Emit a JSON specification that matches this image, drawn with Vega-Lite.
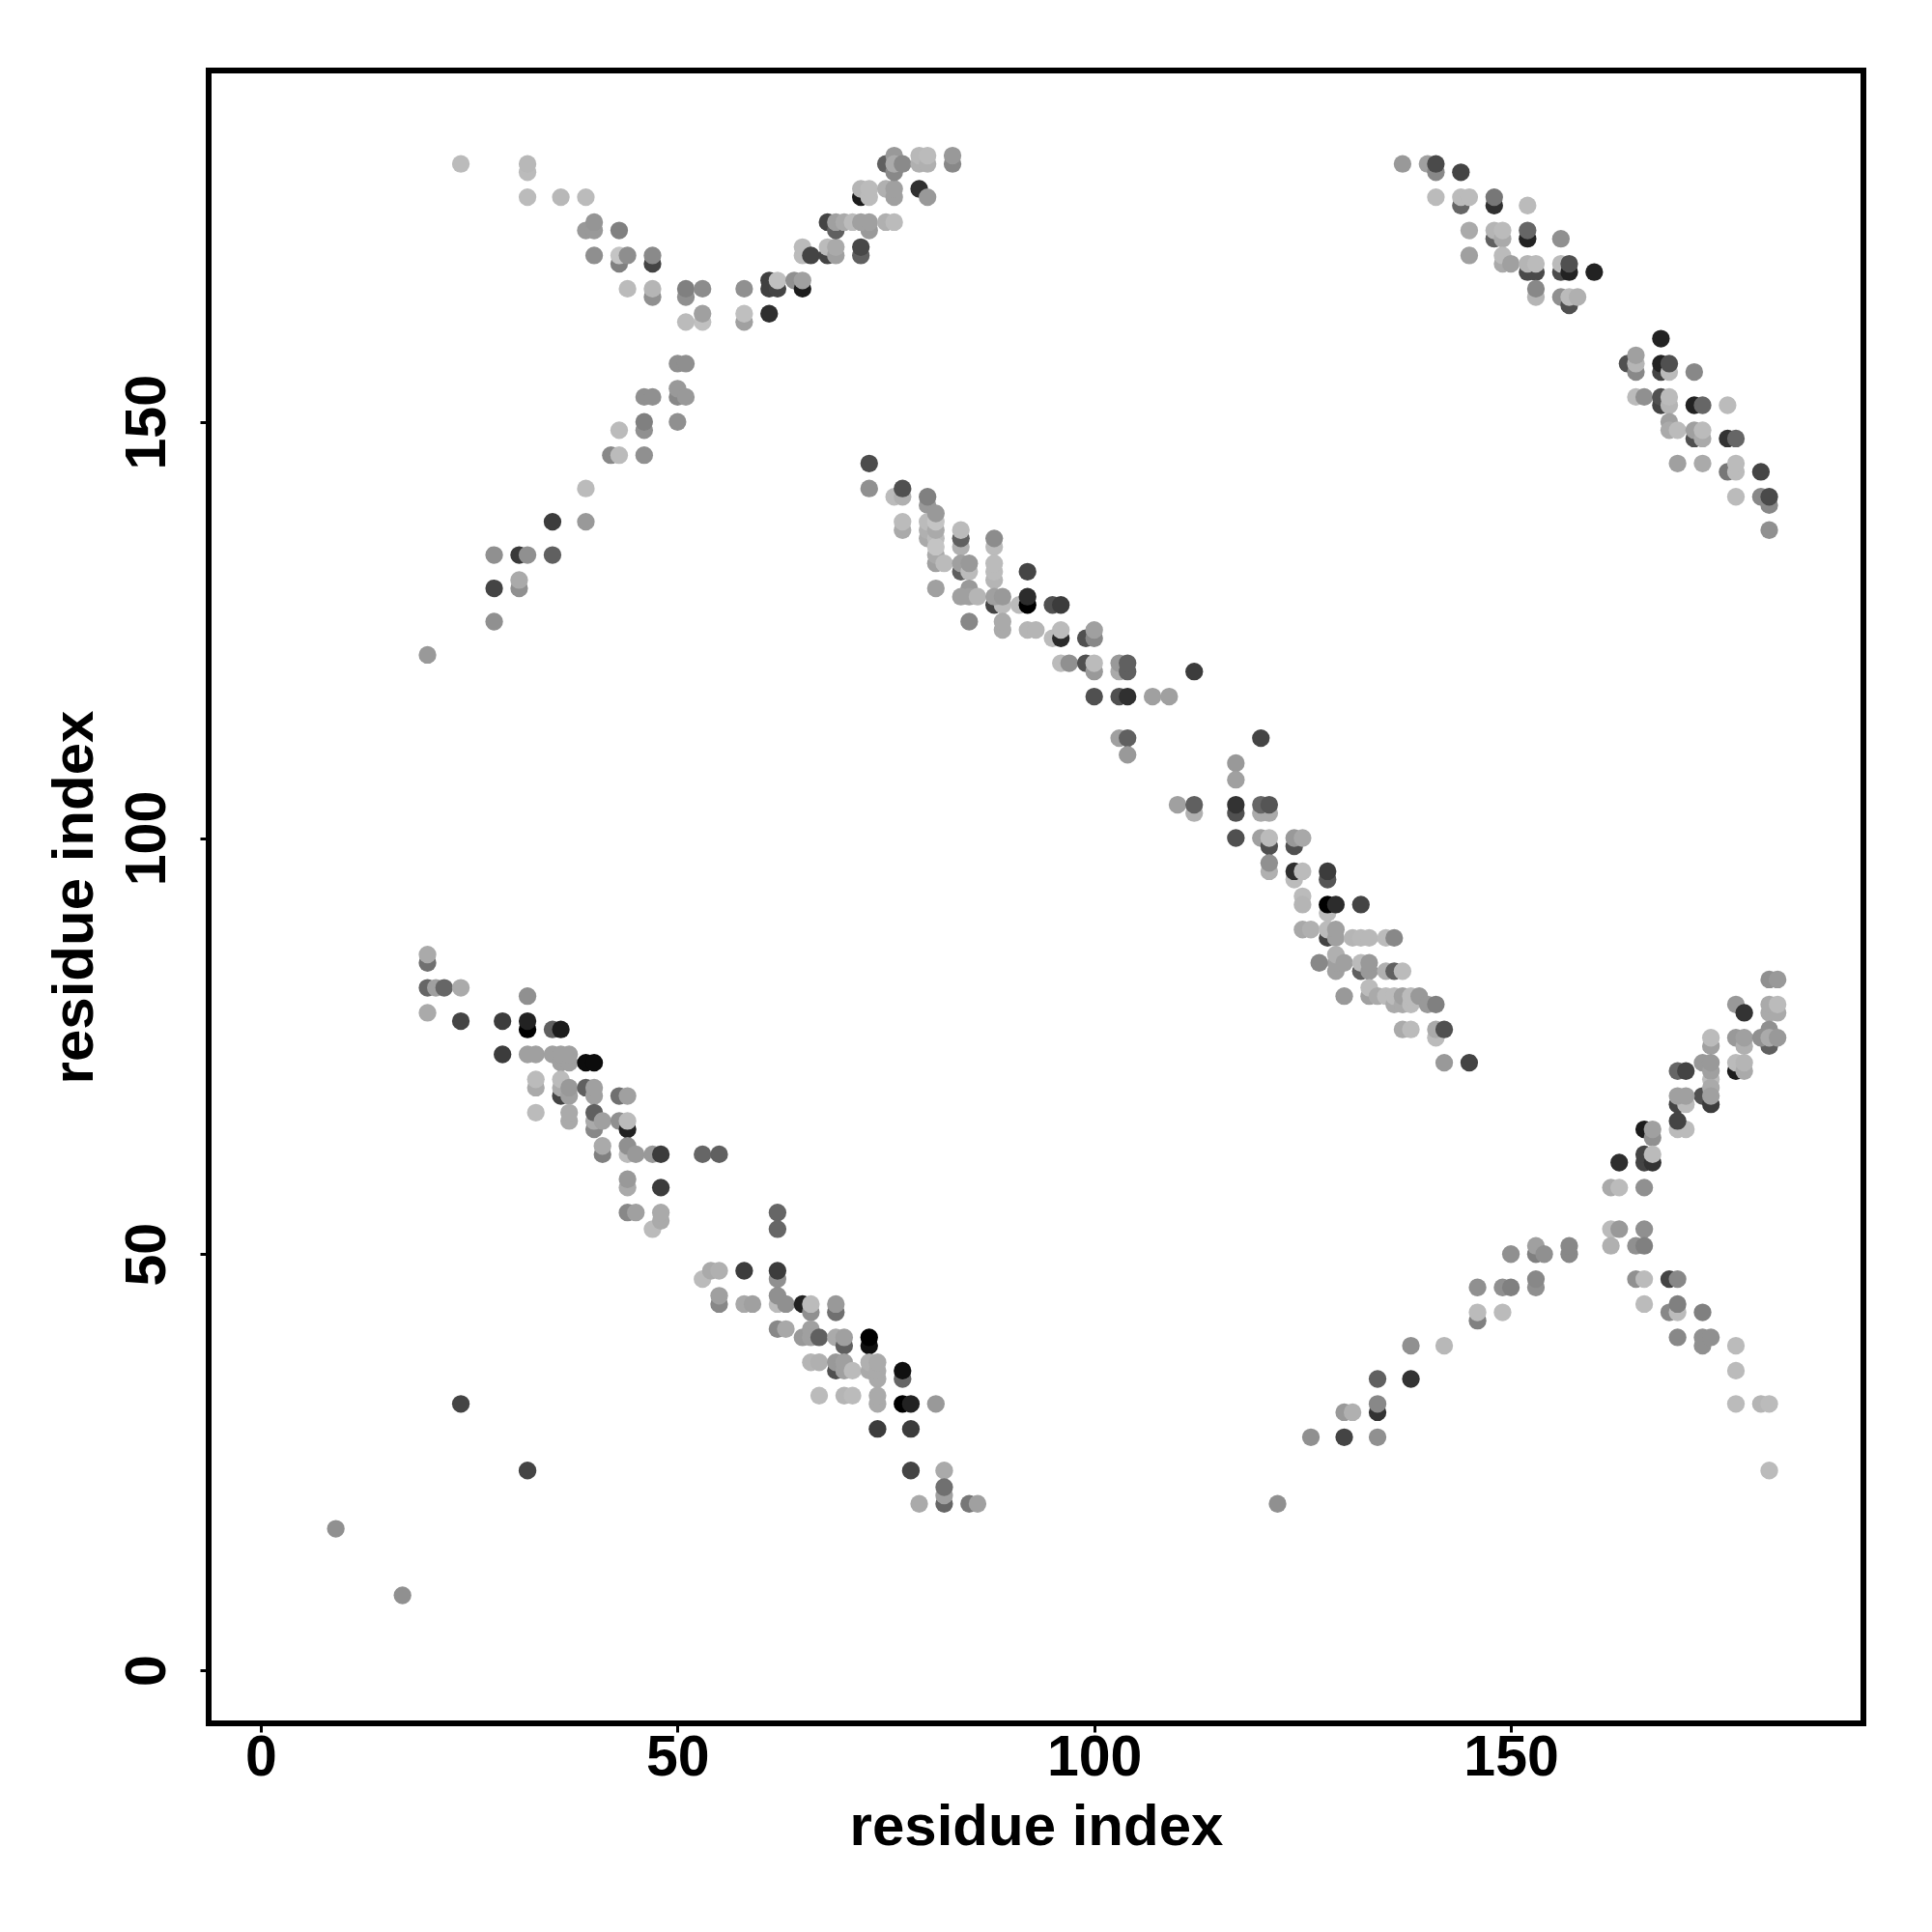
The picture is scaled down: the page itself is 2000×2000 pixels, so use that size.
{"$schema":"https://vega.github.io/schema/vega-lite/v6.json","autosize":{"type":"none"},"padding":{"left":216,"top":73,"right":71,"bottom":216},"width":1713,"height":1711,"background":"white","view":{"stroke":"black","strokeWidth":6,"fill":"white"},"data":{"values":[
{"x":9,"y":17,"g":144},{"x":17,"y":9,"g":144},{"x":24,"y":32,"g":68},{"x":32,"y":24,"g":68},
{"x":24,"y":181,"g":187},{"x":32,"y":180,"g":187},{"x":32,"y":181,"g":184},{"x":32,"y":177,"g":187},{"x":36,"y":177,"g":184},{"x":39,"y":177,"g":187},{"x":39,"y":173,"g":153},{"x":40,"y":173,"g":153},{"x":40,"y":174,"g":149},{"x":43,"y":173,"g":128},{"x":40,"y":170,"g":143},{"x":43,"y":169,"g":128},{"x":43,"y":170,"g":196},{"x":44,"y":170,"g":142},{"x":47,"y":169,"g":68},{"x":47,"y":170,"g":138},{"x":44,"y":166,"g":187},{"x":47,"y":165,"g":144},{"x":47,"y":166,"g":181},{"x":51,"y":165,"g":144},{"x":51,"y":166,"g":128},{"x":53,"y":166,"g":140},{"x":58,"y":166,"g":144},{"x":61,"y":167,"g":64},{"x":61,"y":166,"g":64},{"x":62,"y":166,"g":68},{"x":62,"y":167,"g":192},{"x":64,"y":167,"g":144},{"x":65,"y":166,"g":28},{"x":65,"y":167,"g":160},{"x":53,"y":162,"g":192},{"x":53,"y":163,"g":160},{"x":51,"y":162,"g":187},{"x":58,"y":162,"g":160},{"x":58,"y":163,"g":191},{"x":61,"y":163,"g":46},{"x":50,"y":157,"g":143},{"x":51,"y":157,"g":143},{"x":50,"y":153,"g":136},{"x":50,"y":154,"g":153},{"x":51,"y":153,"g":153},{"x":46,"y":153,"g":144},{"x":47,"y":153,"g":144},{"x":46,"y":149,"g":144},{"x":46,"y":150,"g":128},{"x":50,"y":150,"g":144},{"x":43,"y":149,"g":187},{"x":42,"y":146,"g":136},{"x":43,"y":146,"g":187},{"x":46,"y":146,"g":144},{"x":39,"y":142,"g":187},{"x":35,"y":138,"g":60},{"x":39,"y":138,"g":153},{"x":28,"y":134,"g":144},{"x":31,"y":134,"g":58},{"x":32,"y":134,"g":144},{"x":35,"y":134,"g":96},{"x":28,"y":130,"g":68},{"x":31,"y":130,"g":144},{"x":31,"y":131,"g":170},{"x":28,"y":126,"g":144},{"x":20,"y":122,"g":153},
{"x":72,"y":170,"g":96},{"x":72,"y":171,"g":72},{"x":65,"y":170,"g":187},{"x":65,"y":171,"g":187},{"x":66,"y":170,"g":68},{"x":68,"y":170,"g":68},{"x":68,"y":171,"g":187},{"x":69,"y":170,"g":160},{"x":69,"y":171,"g":170},{"x":68,"y":174,"g":68},{"x":69,"y":173,"g":96},{"x":69,"y":174,"g":160},{"x":70,"y":174,"g":170},{"x":71,"y":174,"g":187},{"x":73,"y":173,"g":153},{"x":72,"y":174,"g":160},{"x":73,"y":174,"g":160},{"x":75,"y":174,"g":176},{"x":76,"y":174,"g":187},{"x":72,"y":177,"g":28},{"x":72,"y":178,"g":181},{"x":73,"y":177,"g":187},{"x":73,"y":178,"g":187},{"x":75,"y":178,"g":176},{"x":76,"y":177,"g":160},{"x":76,"y":178,"g":160},{"x":79,"y":178,"g":48},{"x":80,"y":177,"g":153},{"x":75,"y":181,"g":96},{"x":76,"y":180,"g":136},{"x":76,"y":182,"g":153},{"x":76,"y":181,"g":170},{"x":77,"y":181,"g":138},{"x":79,"y":181,"g":176},{"x":79,"y":182,"g":184},{"x":80,"y":181,"g":176},{"x":80,"y":182,"g":187},{"x":83,"y":181,"g":136},{"x":83,"y":182,"g":153},
{"x":73,"y":145,"g":76},{"x":73,"y":142,"g":144},{"x":76,"y":141,"g":187},{"x":77,"y":141,"g":176},{"x":77,"y":142,"g":80},{"x":80,"y":140,"g":153},{"x":80,"y":141,"g":128},{"x":77,"y":137,"g":170},{"x":77,"y":138,"g":187},{"x":80,"y":136,"g":170},{"x":80,"y":137,"g":176},{"x":80,"y":138,"g":187},{"x":81,"y":133,"g":160},{"x":81,"y":134,"g":170},{"x":81,"y":136,"g":187},{"x":81,"y":135,"g":196},{"x":81,"y":137,"g":170},{"x":81,"y":138,"g":196},{"x":81,"y":139,"g":153},{"x":82,"y":133,"g":187},{"x":84,"y":135,"g":176},{"x":84,"y":136,"g":96},{"x":84,"y":137,"g":187},{"x":84,"y":132,"g":96},{"x":84,"y":133,"g":160},{"x":85,"y":132,"g":187},{"x":85,"y":133,"g":153},{"x":88,"y":135,"g":187},{"x":88,"y":136,"g":140},{"x":88,"y":131,"g":181},{"x":88,"y":132,"g":187},{"x":88,"y":133,"g":187},{"x":81,"y":130,"g":160},{"x":85,"y":130,"g":153},{"x":84,"y":129,"g":160},{"x":85,"y":129,"g":160},{"x":86,"y":129,"g":181},{"x":88,"y":128,"g":68},{"x":89,"y":128,"g":187},{"x":88,"y":129,"g":160},{"x":89,"y":129,"g":153},{"x":91,"y":128,"g":187},{"x":92,"y":132,"g":69},{"x":92,"y":128,"g":0},{"x":92,"y":129,"g":44},{"x":95,"y":128,"g":80},{"x":96,"y":128,"g":60},{"x":85,"y":126,"g":136},{"x":89,"y":125,"g":170},{"x":89,"y":126,"g":170},{"x":92,"y":125,"g":181},{"x":93,"y":125,"g":181},{"x":95,"y":124,"g":187},{"x":96,"y":124,"g":42},{"x":96,"y":125,"g":187},{"x":99,"y":124,"g":80},{"x":100,"y":124,"g":136},{"x":100,"y":125,"g":160},{"x":96,"y":121,"g":187},{"x":97,"y":121,"g":144},{"x":99,"y":121,"g":80},{"x":100,"y":120,"g":153},{"x":100,"y":121,"g":187},{"x":103,"y":120,"g":170},{"x":103,"y":121,"g":153},{"x":104,"y":120,"g":96},{"x":104,"y":121,"g":96},{"x":112,"y":120,"g":60},{"x":100,"y":117,"g":80},{"x":103,"y":117,"g":80},{"x":104,"y":117,"g":48},{"x":107,"y":117,"g":160},{"x":109,"y":117,"g":160},{"x":103,"y":112,"g":160},{"x":104,"y":112,"g":96},{"x":104,"y":110,"g":153},
{"x":120,"y":112,"g":68},{"x":117,"y":109,"g":153},{"x":117,"y":107,"g":160},{"x":110,"y":104,"g":160},{"x":112,"y":103,"g":176},{"x":112,"y":104,"g":96},{"x":117,"y":103,"g":80},{"x":117,"y":104,"g":51},{"x":120,"y":103,"g":170},{"x":121,"y":103,"g":170},{"x":120,"y":104,"g":102},{"x":121,"y":104,"g":85},{"x":117,"y":100,"g":80},{"x":120,"y":100,"g":160},{"x":121,"y":99,"g":80},{"x":121,"y":100,"g":187},{"x":124,"y":99,"g":80},{"x":124,"y":100,"g":153},{"x":125,"y":100,"g":168},{"x":121,"y":96,"g":176},{"x":121,"y":97,"g":144},{"x":124,"y":95,"g":187},{"x":124,"y":96,"g":46},{"x":125,"y":96,"g":187},{"x":128,"y":95,"g":85},{"x":128,"y":96,"g":60},{"x":125,"y":93,"g":187},{"x":125,"y":92,"g":181},{"x":128,"y":91,"g":187},{"x":128,"y":92,"g":0},{"x":129,"y":92,"g":44},{"x":132,"y":92,"g":68},{"x":125,"y":89,"g":168},{"x":126,"y":89,"g":176},{"x":128,"y":88,"g":68},{"x":128,"y":89,"g":187},{"x":129,"y":88,"g":160},{"x":129,"y":89,"g":160},{"x":131,"y":88,"g":181},{"x":132,"y":88,"g":184},{"x":133,"y":88,"g":184},{"x":135,"y":88,"g":187},{"x":136,"y":88,"g":136},{"x":129,"y":84,"g":160},{"x":129,"y":85,"g":160},{"x":129,"y":86,"g":176},{"x":130,"y":85,"g":160},{"x":127,"y":85,"g":136},{"x":132,"y":84,"g":96},{"x":132,"y":85,"g":187},{"x":133,"y":84,"g":153},{"x":133,"y":85,"g":153},{"x":135,"y":84,"g":176},{"x":136,"y":84,"g":96},{"x":137,"y":84,"g":187},{"x":130,"y":81,"g":153},{"x":133,"y":81,"g":160},{"x":133,"y":82,"g":187},{"x":134,"y":81,"g":170},{"x":135,"y":81,"g":187},{"x":136,"y":80,"g":170},{"x":136,"y":81,"g":187},{"x":137,"y":80,"g":170},{"x":137,"y":81,"g":160},{"x":138,"y":80,"g":187},{"x":138,"y":81,"g":187},{"x":139,"y":81,"g":153},{"x":140,"y":80,"g":153},{"x":141,"y":80,"g":128},{"x":137,"y":77,"g":170},{"x":138,"y":77,"g":187},{"x":141,"y":76,"g":187},{"x":141,"y":77,"g":170},{"x":142,"y":77,"g":80},{"x":142,"y":73,"g":153},{"x":145,"y":73,"g":68},
{"x":181,"y":83,"g":144},{"x":182,"y":83,"g":153},{"x":177,"y":80,"g":153},{"x":178,"y":79,"g":51},{"x":181,"y":79,"g":170},{"x":182,"y":79,"g":170},{"x":181,"y":80,"g":170},{"x":182,"y":80,"g":187},{"x":174,"y":75,"g":160},{"x":174,"y":76,"g":187},{"x":177,"y":76,"g":153},{"x":178,"y":75,"g":176},{"x":178,"y":76,"g":160},{"x":181,"y":75,"g":96},{"x":181,"y":77,"g":144},{"x":180,"y":76,"g":144},{"x":181,"y":76,"g":170},{"x":182,"y":76,"g":153},{"x":177,"y":72,"g":28},{"x":177,"y":73,"g":187},{"x":178,"y":72,"g":170},{"x":178,"y":73,"g":181},{"x":173,"y":73,"g":153},{"x":174,"y":71,"g":187},{"x":174,"y":72,"g":160},{"x":174,"y":73,"g":153},{"x":170,"y":72,"g":102},{"x":171,"y":72,"g":68},{"x":173,"y":69,"g":80},{"x":174,"y":68,"g":60},{"x":174,"y":70,"g":170},{"x":174,"y":69,"g":160},{"x":170,"y":68,"g":68},{"x":171,"y":68,"g":187},{"x":170,"y":69,"g":160},{"x":171,"y":69,"g":160},{"x":170,"y":65,"g":187},{"x":171,"y":65,"g":187},{"x":170,"y":66,"g":68},{"x":166,"y":65,"g":28},{"x":167,"y":64,"g":144},{"x":167,"y":65,"g":160},{"x":166,"y":61,"g":68},{"x":166,"y":62,"g":68},{"x":167,"y":61,"g":51},{"x":167,"y":62,"g":187},{"x":163,"y":61,"g":46},{"x":162,"y":58,"g":170},{"x":163,"y":58,"g":187},{"x":166,"y":58,"g":144},{"x":162,"y":53,"g":187},{"x":163,"y":53,"g":153},{"x":166,"y":53,"g":144},{"x":162,"y":51,"g":176},{"x":165,"y":51,"g":144},{"x":166,"y":51,"g":128},{"x":157,"y":50,"g":136},{"x":157,"y":51,"g":136},{"x":153,"y":50,"g":128},{"x":153,"y":51,"g":160},{"x":154,"y":50,"g":144},{"x":150,"y":50,"g":144},{"x":146,"y":46,"g":144},{"x":149,"y":46,"g":144},{"x":150,"y":46,"g":128},{"x":153,"y":46,"g":144},{"x":153,"y":47,"g":136},{"x":146,"y":42,"g":128},{"x":146,"y":43,"g":187},{"x":149,"y":43,"g":187},{"x":138,"y":39,"g":144},{"x":142,"y":39,"g":184},{"x":134,"y":35,"g":96},{"x":138,"y":35,"g":51},{"x":134,"y":31,"g":51},{"x":134,"y":32,"g":136},{"x":130,"y":31,"g":153},{"x":131,"y":31,"g":176},{"x":126,"y":28,"g":144},{"x":130,"y":28,"g":68},{"x":134,"y":28,"g":144},{"x":122,"y":20,"g":144},{"x":165,"y":47,"g":144},{"x":166,"y":47,"g":187},{"x":169,"y":47,"g":68},{"x":170,"y":47,"g":136},{"x":166,"y":44,"g":187},{"x":169,"y":43,"g":136},{"x":170,"y":43,"g":187},{"x":170,"y":44,"g":128},{"x":173,"y":43,"g":128},{"x":170,"y":40,"g":136},{"x":173,"y":39,"g":144},{"x":173,"y":40,"g":144},{"x":174,"y":40,"g":144},{"x":177,"y":39,"g":187},{"x":177,"y":36,"g":187},{"x":177,"y":32,"g":187},{"x":180,"y":32,"g":181},{"x":181,"y":32,"g":187},{"x":181,"y":24,"g":187},
{"x":137,"y":181,"g":153},{"x":140,"y":181,"g":160},{"x":141,"y":180,"g":136},{"x":141,"y":181,"g":74},{"x":144,"y":180,"g":68},{"x":141,"y":177,"g":187},{"x":144,"y":176,"g":102},{"x":144,"y":177,"g":187},{"x":145,"y":177,"g":187},{"x":148,"y":176,"g":48},{"x":148,"y":177,"g":119},{"x":152,"y":176,"g":187},{"x":145,"y":173,"g":170},{"x":148,"y":172,"g":96},{"x":148,"y":173,"g":181},{"x":149,"y":172,"g":170},{"x":149,"y":173,"g":187},{"x":152,"y":172,"g":34},{"x":152,"y":173,"g":102},{"x":156,"y":172,"g":144},{"x":145,"y":170,"g":160},{"x":149,"y":169,"g":170},{"x":149,"y":170,"g":187},{"x":150,"y":169,"g":160},{"x":152,"y":168,"g":74},{"x":153,"y":168,"g":74},{"x":152,"y":169,"g":181},{"x":153,"y":169,"g":187},{"x":156,"y":168,"g":74},{"x":156,"y":169,"g":187},{"x":157,"y":168,"g":34},{"x":157,"y":169,"g":80},{"x":160,"y":168,"g":34},{"x":153,"y":165,"g":181},{"x":153,"y":166,"g":136},{"x":156,"y":165,"g":144},{"x":157,"y":164,"g":80},{"x":157,"y":165,"g":187},{"x":158,"y":165,"g":176},{"x":168,"y":160,"g":34},{"x":164,"y":157,"g":80},{"x":165,"y":156,"g":136},{"x":165,"y":157,"g":181},{"x":165,"y":158,"g":160},{"x":168,"y":156,"g":68},{"x":168,"y":157,"g":34},{"x":169,"y":156,"g":187},{"x":169,"y":157,"g":80},{"x":172,"y":156,"g":136},{"x":165,"y":153,"g":187},{"x":166,"y":153,"g":144},{"x":168,"y":152,"g":68},{"x":168,"y":153,"g":80},{"x":169,"y":152,"g":181},{"x":169,"y":153,"g":187},{"x":172,"y":152,"g":34},{"x":173,"y":152,"g":102},{"x":176,"y":152,"g":187},{"x":169,"y":150,"g":160},{"x":169,"y":149,"g":170},{"x":170,"y":149,"g":187},{"x":172,"y":148,"g":80},{"x":172,"y":149,"g":160},{"x":173,"y":148,"g":170},{"x":173,"y":149,"g":187},{"x":176,"y":148,"g":51},{"x":177,"y":148,"g":102},{"x":170,"y":145,"g":160},{"x":173,"y":145,"g":170},{"x":176,"y":144,"g":119},{"x":177,"y":144,"g":187},{"x":177,"y":145,"g":187},{"x":180,"y":144,"g":68},{"x":177,"y":141,"g":187},{"x":180,"y":141,"g":136},{"x":181,"y":140,"g":136},{"x":181,"y":141,"g":74},{"x":181,"y":137,"g":144},
{"x":20,"y":85,"g":112},{"x":20,"y":86,"g":170},{"x":20,"y":82,"g":102},{"x":21,"y":82,"g":160},{"x":22,"y":82,"g":102},{"x":24,"y":82,"g":170},{"x":32,"y":81,"g":144},{"x":20,"y":79,"g":170},{"x":24,"y":78,"g":68},{"x":29,"y":78,"g":60},{"x":32,"y":77,"g":0},{"x":32,"y":78,"g":34},{"x":35,"y":77,"g":96},{"x":36,"y":77,"g":28},{"x":29,"y":74,"g":60},{"x":32,"y":74,"g":160},{"x":33,"y":74,"g":160},{"x":35,"y":74,"g":160},{"x":36,"y":73,"g":160},{"x":37,"y":73,"g":160},{"x":36,"y":74,"g":160},{"x":37,"y":74,"g":160},{"x":39,"y":73,"g":12},{"x":40,"y":73,"g":12},{"x":33,"y":70,"g":170},{"x":33,"y":71,"g":187},{"x":36,"y":69,"g":68},{"x":36,"y":70,"g":170},{"x":36,"y":71,"g":187},{"x":37,"y":69,"g":160},{"x":37,"y":70,"g":153},{"x":39,"y":70,"g":96},{"x":40,"y":69,"g":160},{"x":40,"y":70,"g":160},{"x":43,"y":69,"g":112},{"x":44,"y":69,"g":160},{"x":33,"y":67,"g":187},{"x":37,"y":66,"g":170},{"x":37,"y":67,"g":170},{"x":40,"y":65,"g":136},{"x":40,"y":66,"g":170},{"x":40,"y":67,"g":96},{"x":41,"y":66,"g":160},{"x":43,"y":66,"g":144},{"x":44,"y":65,"g":34},{"x":44,"y":66,"g":187},{"x":41,"y":62,"g":128},{"x":41,"y":63,"g":170},{"x":44,"y":62,"g":187},{"x":44,"y":63,"g":144},{"x":45,"y":62,"g":153},{"x":47,"y":62,"g":153},{"x":48,"y":62,"g":60},{"x":53,"y":62,"g":102},{"x":55,"y":62,"g":96},{"x":44,"y":58,"g":170},{"x":44,"y":59,"g":153},{"x":48,"y":58,"g":60},{"x":44,"y":55,"g":136},{"x":45,"y":55,"g":160},{"x":47,"y":53,"g":187},{"x":48,"y":54,"g":170},{"x":48,"y":55,"g":170},
{"x":62,"y":55,"g":102},{"x":62,"y":53,"g":102},{"x":53,"y":47,"g":187},{"x":54,"y":48,"g":170},{"x":55,"y":48,"g":176},{"x":58,"y":48,"g":60},{"x":62,"y":47,"g":144},{"x":62,"y":48,"g":60},{"x":55,"y":44,"g":136},{"x":55,"y":45,"g":160},{"x":58,"y":44,"g":168},{"x":59,"y":44,"g":160},{"x":62,"y":44,"g":187},{"x":62,"y":45,"g":144},{"x":63,"y":44,"g":144},{"x":65,"y":44,"g":34},{"x":66,"y":43,"g":144},{"x":66,"y":44,"g":187},{"x":69,"y":43,"g":112},{"x":69,"y":44,"g":153},{"x":62,"y":41,"g":136},{"x":63,"y":41,"g":168},{"x":65,"y":40,"g":153},{"x":66,"y":41,"g":160},{"x":66,"y":40,"g":160},{"x":67,"y":40,"g":96},{"x":69,"y":40,"g":170},{"x":70,"y":39,"g":96},{"x":70,"y":40,"g":160},{"x":73,"y":39,"g":16},{"x":73,"y":40,"g":0},{"x":66,"y":37,"g":181},{"x":67,"y":37,"g":176},{"x":69,"y":36,"g":80},{"x":69,"y":37,"g":153},{"x":70,"y":36,"g":160},{"x":70,"y":37,"g":160},{"x":71,"y":36,"g":187},{"x":73,"y":36,"g":170},{"x":73,"y":37,"g":176},{"x":74,"y":35,"g":170},{"x":74,"y":36,"g":170},{"x":74,"y":37,"g":170},{"x":77,"y":35,"g":102},{"x":77,"y":36,"g":16},{"x":67,"y":33,"g":187},{"x":70,"y":33,"g":181},{"x":71,"y":33,"g":187},{"x":74,"y":32,"g":170},{"x":74,"y":33,"g":170},{"x":77,"y":32,"g":0},{"x":78,"y":32,"g":34},{"x":81,"y":32,"g":153},{"x":74,"y":29,"g":60},{"x":78,"y":29,"g":60},{"x":78,"y":24,"g":68},{"x":82,"y":24,"g":170},{"x":82,"y":20,"g":102},{"x":82,"y":21,"g":160},{"x":82,"y":22,"g":112},{"x":79,"y":20,"g":170},{"x":85,"y":20,"g":119},{"x":86,"y":20,"g":160}
]},"mark":{"type":"point","filled":true,"opacity":1,"size":335,"shape":"circle","strokeWidth":0},"encoding":{"x":{"field":"x","type":"quantitative","scale":{"domain":[-6.26,192.3],"nice":false,"zero":false},"axis":{"values":[0,50,100,150],"grid":false,"domain":false,"ticks":true,"tickColor":"black","tickWidth":3,"tickSize":9,"labelFont":"Liberation Sans","labelFontWeight":"bold","labelFontSize":59,"labelColor":"black","labelPadding":-3,"labelFlush":false,"title":"residue index","titleFont":"Liberation Sans","titleFontWeight":"bold","titleFontSize":60,"titleColor":"black","titlePadding":13}},"y":{"field":"y","type":"quantitative","scale":{"domain":[-6.38,192.22],"nice":false,"zero":false},"axis":{"values":[0,50,100,150],"grid":false,"domain":false,"ticks":true,"tickColor":"black","tickWidth":3,"tickSize":9,"labelFont":"Liberation Sans","labelFontWeight":"bold","labelFontSize":59,"labelColor":"black","labelAngle":-90,"labelAlign":"center","labelBaseline":"bottom","labelPadding":25,"labelFlush":false,"title":"residue index","titleFont":"Liberation Sans","titleFontWeight":"bold","titleFontSize":60,"titleColor":"black","titlePadding":15}},"color":{"field":"g","type":"quantitative","legend":null,"scale":{"domain":[0,255],"range":["#000000","#ffffff"],"interpolate":"rgb"}}}}
